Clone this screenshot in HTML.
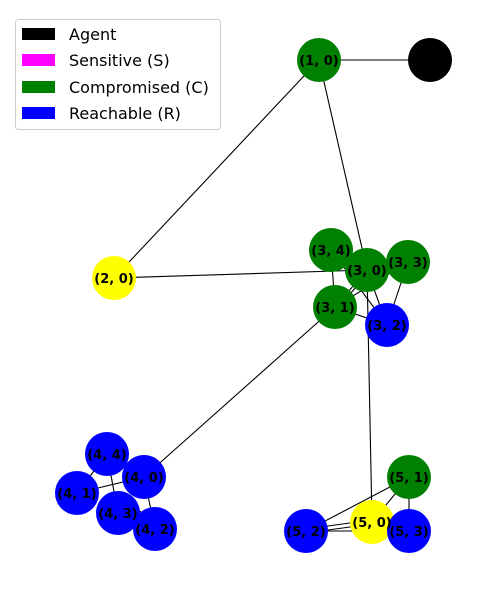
<!DOCTYPE html>
<html><head><meta charset="utf-8"><style>body{margin:0;background:#fff}svg{display:block}</style></head><body>
<svg width="486" height="594" xmlns="http://www.w3.org/2000/svg" font-family="DejaVu Sans, Liberation Sans, sans-serif">
<g stroke="#000" stroke-width="1.1">
<line x1="430" y1="60" x2="319" y2="60"/>
<line x1="319" y1="60" x2="114" y2="278"/>
<line x1="319" y1="60" x2="367" y2="270"/>
<line x1="114" y1="278" x2="367" y2="270"/>
<line x1="331" y1="250" x2="335" y2="307"/>
<line x1="331" y1="250" x2="387" y2="325"/>
<line x1="367" y1="270" x2="335" y2="307"/>
<line x1="369" y1="272" x2="337" y2="309"/>
<line x1="367" y1="270" x2="387" y2="325"/>
<line x1="335" y1="307" x2="387" y2="325"/>
<line x1="408" y1="262" x2="387" y2="325"/>
<line x1="335" y1="307" x2="408" y2="262"/>
<line x1="367" y1="270" x2="372" y2="522"/>
<line x1="335" y1="307" x2="144" y2="477"/>
<line x1="107" y1="454" x2="77" y2="493"/>
<line x1="107" y1="454" x2="118" y2="513"/>
<line x1="77" y1="493" x2="144" y2="477"/>
<line x1="144" y1="477" x2="155" y2="529"/>
<path d="M118 513 Q140 500 155 529" fill="none"/>
<line x1="306" y1="531" x2="409" y2="477"/>
<line x1="306" y1="529" x2="372" y2="520"/>
<line x1="306" y1="533" x2="372" y2="524"/>
<line x1="306" y1="531" x2="409" y2="531"/>
<line x1="372" y1="522" x2="409" y2="477"/>
<line x1="409" y1="477" x2="409" y2="531"/>
</g>
<g>
<circle cx="430" cy="60" r="22" fill="#000"/>
<circle cx="319" cy="60" r="22" fill="#008000"/>
<circle cx="114" cy="278" r="22" fill="#ffff00"/>
<circle cx="331" cy="250" r="22" fill="#008000"/>
<circle cx="408" cy="262" r="22" fill="#008000"/>
<circle cx="367" cy="270" r="22" fill="#008000"/>
<circle cx="335" cy="307" r="22" fill="#008000"/>
<circle cx="387" cy="325" r="22" fill="#0000ff"/>
<circle cx="107" cy="454" r="22" fill="#0000ff"/>
<circle cx="144" cy="477" r="22" fill="#0000ff"/>
<circle cx="77" cy="493" r="22" fill="#0000ff"/>
<circle cx="118" cy="513" r="22" fill="#0000ff"/>
<circle cx="155" cy="529" r="22" fill="#0000ff"/>
<circle cx="409" cy="477" r="22" fill="#008000"/>
<circle cx="306" cy="531" r="22" fill="#0000ff"/>
<circle cx="372" cy="522" r="22" fill="#ffff00"/>
<circle cx="409" cy="531" r="22" fill="#0000ff"/>
</g>
<g font-size="13" font-weight="bold" text-anchor="middle" fill="#000">
<text x="319" y="65">(1, 0)</text>
<text x="114" y="283">(2, 0)</text>
<text x="331" y="255">(3, 4)</text>
<text x="408" y="267">(3, 3)</text>
<text x="367" y="275">(3, 0)</text>
<text x="335" y="312">(3, 1)</text>
<text x="387" y="330">(3, 2)</text>
<text x="107" y="459">(4, 4)</text>
<text x="144" y="482">(4, 0)</text>
<text x="77" y="498">(4, 1)</text>
<text x="118" y="518">(4, 3)</text>
<text x="155" y="534">(4, 2)</text>
<text x="409" y="482">(5, 1)</text>
<text x="306" y="536">(5, 2)</text>
<text x="372" y="527">(5, 0)</text>
<text x="409" y="536">(5, 3)</text>
</g>
<rect x="15.5" y="19.5" width="205" height="110" rx="3" fill="#fff" fill-opacity="0.8" stroke="#ccc"/>
<rect x="22" y="28" width="33" height="12" fill="#000"/>
<rect x="22" y="54" width="33" height="12" fill="#ff00ff"/>
<rect x="22" y="81" width="33" height="12" fill="#008000"/>
<rect x="22" y="107" width="33" height="12" fill="#0000ff"/>
<g font-size="16" fill="#000">
<text x="69" y="40">Agent</text>
<text x="69" y="66">Sensitive (S)</text>
<text x="69" y="93">Compromised (C)</text>
<text x="69" y="119">Reachable (R)</text>
</g>
</svg>
</body></html>
